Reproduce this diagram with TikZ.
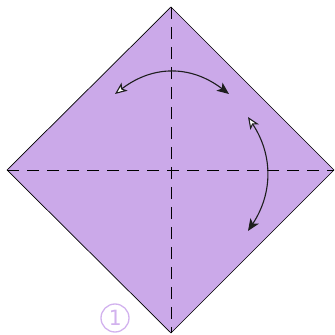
\documentclass[tikz,border=0pt]{standalone}
\usepackage{fontspec}
\newfontfamily\monofont{DejaVu Sans Mono}
\usetikzlibrary{arrows.meta}
\definecolor{paper}{HTML}{CBA9E9}
\definecolor{numcol}{HTML}{D2B2EE}
\tikzset{
  crease/.style={black, line width=0.7pt, dash pattern=on 12pt off 8pt},
  foldarrow/.style={line width=1.1pt, draw={rgb,255:red,30;green,30;blue,30}, {Stealth[length=12pt,width=10pt,inset=3pt,fill=white]}-{Stealth[length=12pt,width=10pt,inset=3pt]}},
  stepnum/.style={circle, draw=numcol, text=numcol, line width=1.3pt, minimum size=28pt, inner sep=0pt, font=\monofont\fontsize{21}{21}\selectfont}
}
\begin{document}
\begin{tikzpicture}[x=1pt,y=1pt]
\useasboundingbox (0,0) rectangle (335,335);
\coordinate (T) at (171,328);
\coordinate (L) at (7,165);
\coordinate (R) at (334,165);
\coordinate (B) at (171,2);
\fill[paper, draw=black, line width=0.7pt] (T) -- (R) -- (B) -- (L) -- cycle;
\draw[crease] (T) -- (B);
\draw[crease] (L) -- (R);
\coordinate (a1) at (115,241);
\coordinate (a2) at (229,241);
\draw[foldarrow] (a1) .. controls (153,270) and (191,270) .. (a2);
\coordinate (b1) at (248,218);
\coordinate (b2) at (248,104);
\draw[foldarrow] (b1) .. controls (273,180) and (273,142) .. (b2);
\node[stepnum] (num) at (115,17) {1};
\end{tikzpicture}
\end{document}
